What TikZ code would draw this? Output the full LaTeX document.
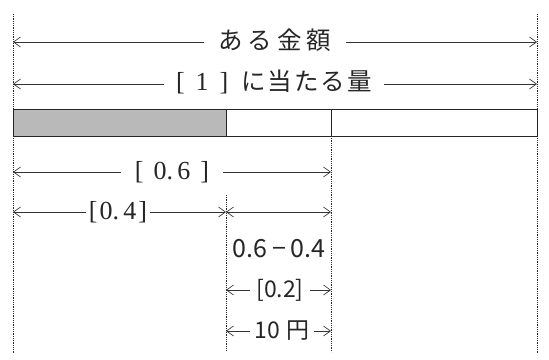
\documentclass[tikz,border=0pt]{standalone}
\usepackage{fontspec}
\setmainfont{Liberation Serif}
\newfontfamily\jp{Noto Sans CJK JP}
\usetikzlibrary{arrows.meta}
\begin{document}
\begin{tikzpicture}[x=1pt,y=-1pt,
  tip/.tip={Straight Barb[length=7pt,width=10pt]},
  dim/.style={-tip, line width=0.65pt, draw=black!80},
  guide/.style={densely dotted, line width=0.8pt, draw=black!85},
  lbl/.style={inner ysep=0pt, inner xsep=6pt, text=black!85},
  big/.style={lbl, font=\jp\fontsize{24.5}{24.5}\selectfont},
  num/.style={lbl, font=\fontsize{26}{26}\selectfont},
  small/.style={lbl, font=\jp\fontsize{23}{23}\selectfont}]
\useasboundingbox[fill=white] (0,0) rectangle (549,359);
% guide lines
\coordinate (Ltop) at (13,14);   \coordinate (Lbot) at (13,354);
\coordinate (Rtop) at (537,14);  \coordinate (Rbot) at (537,354);
\coordinate (Mtop) at (331,136); \coordinate (Mbot) at (331,352);
\coordinate (Qtop) at (226,195); \coordinate (Qbot) at (226,350);
\draw[guide] (Ltop) -- (Lbot);
\draw[guide] (Rtop) -- (Rbot);
\draw[guide] (Mtop) -- (Mbot);
\draw[guide] (Qtop) -- (Qbot);
% bar
\fill[gray!55] (13,109) rectangle (226,136);
\draw[line width=1pt, black!85] (13,109) rectangle (537,136);
\draw[line width=1pt, black!85] (226,109) -- (226,136);
\draw[line width=1pt, black!85] (331,109) -- (331,136);
% row 1
\node[big, inner xsep=14pt] (t1) at (275,40) {あ\hspace{5pt}る\hspace{5pt}金\hspace{5pt}額};
\coordinate (a1l) at (13,42); \coordinate (a1r) at (537,42);
\draw[dim] (t1.west |- a1l) -- (a1l);
\draw[dim] (t1.east |- a1r) -- (a1r);
% row 2
\node[big, inner xsep=12pt] (t2) at (274,82) {{\rmfamily\fontsize{26}{26}\selectfont[\hspace{11pt}1\hspace{11pt}]}\hspace{13pt}に\hspace{2pt}当\hspace{2pt}た\hspace{2pt}る\hspace{2pt}量};
\coordinate (a2l) at (13,84); \coordinate (a2r) at (537,84);
\draw[dim] (t2.west |- a2l) -- (a2l);
\draw[dim] (t2.east |- a2r) -- (a2r);
% row 3
\node[num, inner xsep=14pt] (t3) at (172,172) {[\hspace{10pt}0.\,6\hspace{10pt}]};
\coordinate (a3l) at (13,172); \coordinate (a3r) at (331,172);
\draw[dim] (t3.west) -- (a3l);
\draw[dim] (t3.east) -- (a3r);
% row 4
\node[num, inner xsep=3pt] (t4) at (118,212) {[\hspace{2pt}0.\,4\hspace{2pt}]};
\coordinate (a4l) at (13,212); \coordinate (a4m) at (226,212); \coordinate (a4r) at (331,212);
\draw[dim] (t4.west) -- (a4l);
\draw[dim] (t4.east) -- (a4m);
\draw[dim, tip-tip] (a4m) -- (a4r);
% lower labels
\node[small, inner xsep=0pt, font=\jp\fontsize{25}{25}\selectfont] (t5) at (279,249) {0.6\hspace{5pt}−\hspace{5pt}0.4};
\node[small, inner xsep=6pt] (t6) at (280,290) {[0.2]};
\coordinate (a6l) at (226,290); \coordinate (a6r) at (331,290);
\draw[dim] (t6.west) -- (a6l);
\draw[dim] (t6.east) -- (a6r);
\node[small, inner xsep=5pt] (t7) at (282,331) {10\hspace{6pt}円};
\coordinate (a7l) at (226,331); \coordinate (a7r) at (331,331);
\draw[dim] (t7.west) -- (a7l);
\draw[dim] (t7.east) -- (a7r);
\end{tikzpicture}
\end{document}
